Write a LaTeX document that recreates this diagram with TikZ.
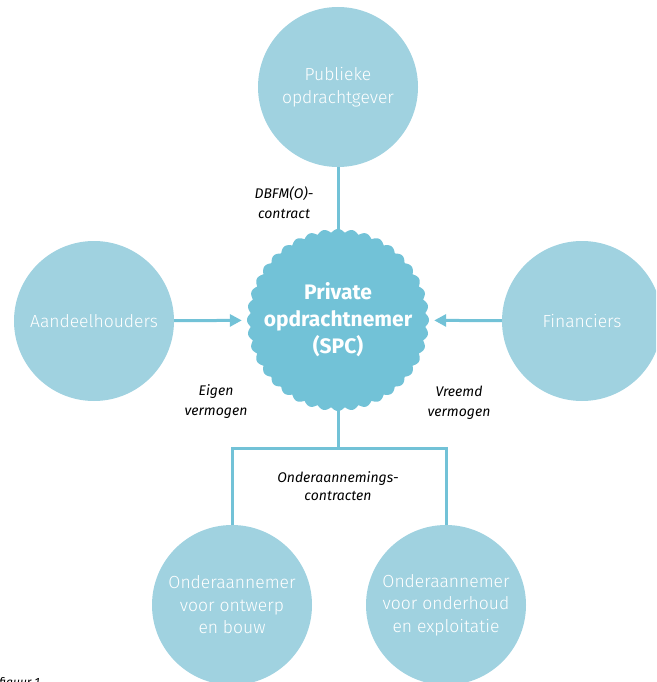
\documentclass[tikz,border=0pt]{standalone}
\usepackage{fontspec}
\setmainfont{Fira Sans}
\newfontfamily\lightfont{Fira Sans Light}
\usetikzlibrary{arrows.meta}
\definecolor{partycol}{HTML}{A0D2E0}
\definecolor{spccol}{HTML}{72C2D7}
\definecolor{linkcol}{HTML}{72C2D7}
\pgfdeclarelayer{links}
\pgfsetlayers{links,main}
\begin{document}
\begin{tikzpicture}[x=1pt,y=-1pt,
  party/.style={circle, fill=partycol, minimum size=160pt, inner sep=0pt,
    text=white, align=center, font=\lightfont\fontsize{17.5}{22.5}\selectfont},
  hub/.style={circle, minimum size=192pt, inner sep=0pt, text=white,
    align=center, font=\fontsize{21}{27}\selectfont\bfseries},
  link/.style={draw=linkcol, line width=3pt},
  flow/.style={link, -{Triangle[length=12pt,width=12pt]}},
  note/.style={align=center, text=black, font=\fontsize{14}{20}\selectfont\itshape}]
\useasboundingbox (0,0) rectangle (656,682);
\clip (0,0) rectangle (656,682);

% parties around the SPC
\node[party] (pub) at (338,87) {Publieke\\opdrachtgever};
\node[party] (share) at (94,321) {Aandeelhouders};
\node[party] (fin) at (582,321) {Financiers};
\node[party] (ontwerp) at (232,605) {Onderaannemer\\voor ontwerp\\en bouw};
\node[party] (onderhoud) at (446,605) {Onderaannemer\\voor onderhoud\\en exploitatie};

% scalloped seal of the SPC: 40 rounded lobes
\fill[spccol] plot[domain=0:360, samples=1441]
  ({338+(87.5+3.5*abs(cos(20*\x)))*cos(\x)}, {320+(87.5+3.5*abs(cos(20*\x)))*sin(\x)}) -- cycle;
\node[hub] (spc) at (338,320) {Private\\opdrachtnemer\\(SPC)};

\coordinate (bus) at (338,448);

\begin{pgfonlayer}{links}
  \draw[link] (pub) -- (spc.center);
  \draw[flow] (share) -- (spc);
  \draw[flow] (fin) -- (spc);
  \draw[link] (spc.center) -- (bus);
  \draw[link] (ontwerp.north) |- (bus) -| (onderhoud.north);
\end{pgfonlayer}

% relation labels
\node[note] (dbfm) at (284,203) {DBFM(O)-\\contract};
\node[note] (eigen) at (216,402) {Eigen\\vermogen};
\node[note] (vreemd) at (459,403) {Vreemd\\vermogen};
\node[note, font=\fontsize{14}{18}\selectfont\itshape] (sub) at (338,486) {Onderaannemings-\\contracten};
\node[anchor=base west, inner sep=0pt, font=\fontsize{12}{14}\selectfont\itshape] (cap) at (-1,686) {figuur 1};
\end{tikzpicture}
\end{document}
